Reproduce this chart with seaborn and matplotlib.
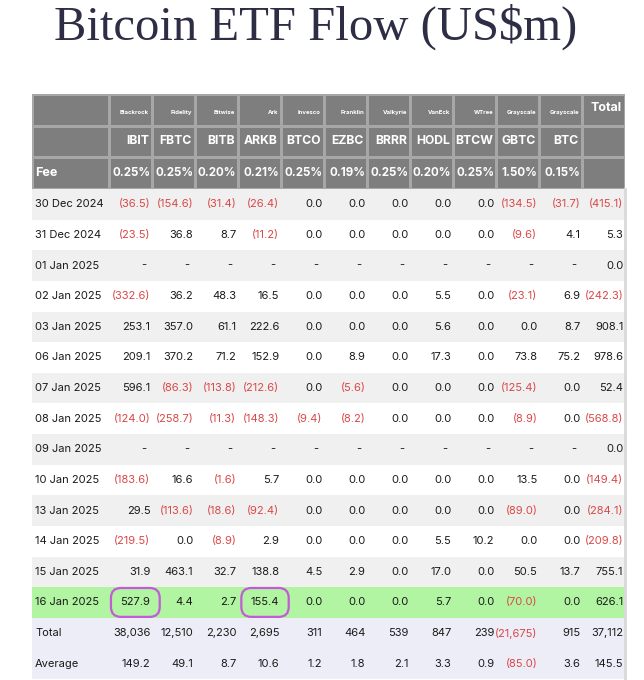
import matplotlib
matplotlib.use("Agg")
import numpy as np
import pandas as pd
import seaborn as sns
import matplotlib.pyplot as plt
from matplotlib.colors import ListedColormap

# ---------------- data ----------------
title = "Bitcoin ETF Flow (US$m)"
providers = ["Blackrock", "Fidelity", "Bitwise", "Ark", "Invesco", "Franklin",
             "Valkyrie", "VanEck", "WTree", "Grayscale", "Grayscale", ""]
tickers = ["IBIT", "FBTC", "BITB", "ARKB", "BTCO", "EZBC", "BRRR", "HODL",
           "BTCW", "GBTC", "BTC", ""]
fees = ["0.25%", "0.25%", "0.20%", "0.21%", "0.25%", "0.19%", "0.25%", "0.20%",
        "0.25%", "1.50%", "0.15%", ""]
total_header = "Total"

dates = ["30 Dec 2024", "31 Dec 2024", "01 Jan 2025", "02 Jan 2025", "03 Jan 2025",
         "06 Jan 2025", "07 Jan 2025", "08 Jan 2025", "09 Jan 2025", "10 Jan 2025",
         "13 Jan 2025", "14 Jan 2025", "15 Jan 2025", "16 Jan 2025"]
N = None
flows = [
    [-36.5, -154.6, -31.4, -26.4, 0.0, 0.0, 0.0, 0.0, 0.0, -134.5, -31.7, -415.1],
    [-23.5, 36.8, 8.7, -11.2, 0.0, 0.0, 0.0, 0.0, 0.0, -9.6, 4.1, 5.3],
    [N, N, N, N, N, N, N, N, N, N, N, 0.0],
    [-332.6, 36.2, 48.3, 16.5, 0.0, 0.0, 0.0, 5.5, 0.0, -23.1, 6.9, -242.3],
    [253.1, 357.0, 61.1, 222.6, 0.0, 0.0, 0.0, 5.6, 0.0, 0.0, 8.7, 908.1],
    [209.1, 370.2, 71.2, 152.9, 0.0, 8.9, 0.0, 17.3, 0.0, 73.8, 75.2, 978.6],
    [596.1, -86.3, -113.8, -212.6, 0.0, -5.6, 0.0, 0.0, 0.0, -125.4, 0.0, 52.4],
    [-124.0, -258.7, -11.3, -148.3, -9.4, -8.2, 0.0, 0.0, 0.0, -8.9, 0.0, -568.8],
    [N, N, N, N, N, N, N, N, N, N, N, 0.0],
    [-183.6, 16.6, -1.6, 5.7, 0.0, 0.0, 0.0, 0.0, 0.0, 13.5, 0.0, -149.4],
    [29.5, -113.6, -18.6, -92.4, 0.0, 0.0, 0.0, 0.0, 0.0, -89.0, 0.0, -284.1],
    [-219.5, 0.0, -8.9, 2.9, 0.0, 0.0, 0.0, 5.5, 10.2, 0.0, 0.0, -209.8],
    [31.9, 463.1, 32.7, 138.8, 4.5, 2.9, 0.0, 17.0, 0.0, 50.5, 13.7, 755.1],
    [527.9, 4.4, 2.7, 155.4, 0.0, 0.0, 0.0, 5.7, 0.0, -70.0, 0.0, 626.1],
]
totals = [38036, 12510, 2230, 2695, 311, 464, 539, 847, 239, -21675, 915, 37112]
averages = [149.2, 49.1, 8.7, 10.6, 1.2, 1.8, 2.1, 3.3, 0.9, -85.0, 3.6, 145.5]

highlight_date = "16 Jan 2025"
circled = [("16 Jan 2025", "IBIT"), ("16 Jan 2025", "ARKB")]

# ---------------- style ----------------
W, H = 644, 680
HEADER_BG = "#7e7e7e"
HEADER_LINE = "#a7a7a7"
ROW_GRAY = "#f0f0f0"
ROW_WHITE = "#ffffff"
ROW_GREEN = "#b1f4a2"
ROW_SUM = "#ededf7"
TXT = "#1a1a1a"
RED = "#d94848"
PURPLE = "#c35ad6"

sns.set_theme(style="white")
plt.rcParams["font.family"] = ["Inter", "DejaVu Sans"]

fig = plt.figure(figsize=(W / 100, H / 100), dpi=100)
fig.patch.set_facecolor("white")


def ax_px(x0, y0, x1, y1):
    return fig.add_axes([x0 / W, 1 - y1 / H, (x1 - x0) / W, (y1 - y0) / H])


X0, XL, X1 = 32, 109, 625
Y0, YH, Y1 = 94, 189, 679

# ---------------- header ----------------
hdr_lab = ax_px(X0, Y0, XL, YH)
hdr_dat = ax_px(XL, Y0, X1, YH)
hcmap = ListedColormap([HEADER_BG])
sns.heatmap(np.zeros((3, 1)), ax=hdr_lab, cmap=hcmap, cbar=False,
            linewidths=1, linecolor=HEADER_LINE, xticklabels=False, yticklabels=False)
sns.heatmap(np.zeros((3, len(tickers))), ax=hdr_dat, cmap=hcmap, cbar=False,
            linewidths=1, linecolor=HEADER_LINE, xticklabels=False, yticklabels=False)

hdr_lab.text(0.04, 2.5, "Fee", ha="left", va="center", color="white",
             fontsize=9, fontweight="bold")
pad = 0.07
for j in range(len(tickers)):
    hdr_dat.text(j + 1 - pad, 0.58, providers[j], ha="right", va="center",
                 color="white", fontsize=4.3, fontweight="bold")
    hdr_dat.text(j + 1 - pad, 1.5, tickers[j], ha="right", va="center",
                 color="white", fontsize=8.8, fontweight="bold")
    hdr_dat.text(j + 1 - 0.04, 2.5, fees[j], ha="right", va="center",
                 color="white", fontsize=8.3, fontweight="bold")
hdr_dat.text(len(tickers) - pad, 0.45, total_header, ha="right", va="center",
             color="white", fontsize=9, fontweight="bold")

# ---------------- body ----------------
row_labels = dates + ["Total", "Average"]
codes = []
for i, lab in enumerate(row_labels):
    if lab == highlight_date:
        codes.append(2)
    elif lab in ("Total", "Average"):
        codes.append(3)
    else:
        codes.append(1 if i % 2 == 0 else 0)
codes = np.array(codes, dtype=float)
bcmap = ListedColormap([ROW_WHITE, ROW_GRAY, ROW_GREEN, ROW_SUM])

body_lab = ax_px(X0, YH, XL, Y1)
body_dat = ax_px(XL, YH, X1, Y1)
cols = tickers[:-1] + ["Total"]
sns.heatmap(pd.DataFrame(codes[:, None], index=row_labels), ax=body_lab,
            cmap=bcmap, vmin=-0.5, vmax=3.5, cbar=False,
            xticklabels=False, yticklabels=False)
sns.heatmap(pd.DataFrame(np.repeat(codes[:, None], len(cols), axis=1),
                         index=row_labels, columns=cols),
            ax=body_dat, cmap=bcmap, vmin=-0.5, vmax=3.5, cbar=False,
            xticklabels=False, yticklabels=False)

for i, lab in enumerate(row_labels):
    body_lab.text(0.04, i + 0.5, lab, ha="left", va="center", color=TXT, fontsize=8)


def fmt(v, integer=False):
    if v is None:
        return "-", TXT
    s = f"{abs(v):,.0f}" if integer else f"{abs(v):.1f}"
    if v < 0:
        return f"({s})", RED
    return s, TXT


all_rows = [(r, False) for r in flows] + [(totals, True), (averages, False)]
for i, (vals, integer) in enumerate(all_rows):
    for j, v in enumerate(vals):
        s, c = fmt(v, integer)
        xoff = 0.14 if v is None else 0.04
        bbox = None
        if (row_labels[i], cols[j]) in circled:
            bbox = dict(boxstyle="round,pad=0.85,rounding_size=0.9",
                        fc="none", ec=PURPLE, lw=1.6)
        body_dat.text(j + 1 - xoff, i + 0.5, s, ha="right", va="center",
                      color=c, fontsize=8, bbox=bbox)

# light right border of the table
body_dat.spines["right"].set_visible(True)
body_dat.spines["right"].set_color("#d9d9d9")
body_dat.spines["right"].set_linewidth(2)

# ---------------- title ----------------
fig.text(316 / W, 1 - 40 / H, title, ha="center", va="baseline",
         fontsize=35, color="#2d2d45", family=["Liberation Serif", "DejaVu Serif"])

fig.savefig("out.png", dpi=100, facecolor="white")
